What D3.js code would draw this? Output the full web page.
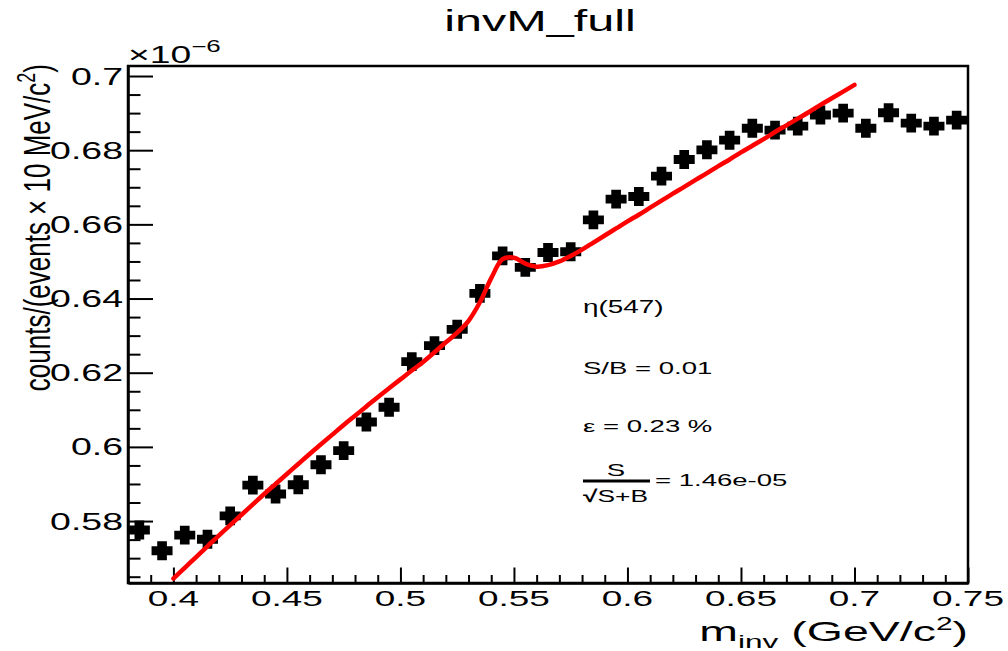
<!DOCTYPE html>
<html>
<head>
<meta charset="utf-8">
<script src="https://cdn.jsdelivr.net/npm/d3@7"></script>
<style>
  body { margin: 0; background: #fff; }
  text { font-family: "Liberation Sans", Arial, Helvetica, sans-serif; fill: #000; }
</style>
</head>
<body>
<div class="canvas"></div>
<script>
// histogram bins (GeV/c^2) and contents (x 10^-6)
const binCenters = [0.385, 0.395, 0.405, 0.415, 0.425, 0.435, 0.445, 0.455, 0.465, 0.475,
	0.485, 0.495, 0.505, 0.515, 0.525, 0.535, 0.545, 0.555, 0.565, 0.575,
	0.585, 0.595, 0.605, 0.615, 0.625, 0.635, 0.645, 0.655, 0.665, 0.675,
	0.685, 0.695, 0.705, 0.715, 0.725, 0.735, 0.745];
const counts = [0.5776, 0.5720, 0.5762, 0.5751, 0.5814, 0.5897, 0.5873, 0.5898, 0.5952, 0.5990,
	0.6067, 0.6107, 0.6230, 0.6273, 0.6317, 0.6414, 0.6515, 0.6484, 0.6524, 0.6526,
	0.6612, 0.6668, 0.6675, 0.6730, 0.6775, 0.6801, 0.6827, 0.6859, 0.6854, 0.6865,
	0.6895, 0.6900, 0.6859, 0.6901, 0.6873, 0.6865, 0.6881];

// fit curve
const fitX = [0.400, 0.405, 0.410, 0.415, 0.420, 0.425, 0.430, 0.435, 0.440, 0.445,
	0.450, 0.455, 0.460, 0.465, 0.470, 0.475, 0.480, 0.485, 0.490, 0.495,
	0.500, 0.505, 0.510, 0.515, 0.520, 0.525, 0.530, 0.535, 0.540, 0.545,
	0.550, 0.555, 0.560, 0.565, 0.570, 0.575, 0.580, 0.585, 0.590, 0.595,
	0.600, 0.605, 0.610, 0.615, 0.620, 0.625, 0.630, 0.635, 0.640, 0.645,
	0.650, 0.655, 0.660, 0.665, 0.670, 0.675, 0.680, 0.685, 0.690, 0.695, 0.700];
const fitY = [0.5645, 0.5674, 0.5703, 0.5732, 0.5761, 0.5789, 0.5817, 0.5845, 0.5873, 0.5900,
	0.5927, 0.5954, 0.5981, 0.6007, 0.6033, 0.6059, 0.6084, 0.6109, 0.6134, 0.6158,
	0.6182, 0.6206, 0.6229, 0.6255, 0.6282, 0.6308, 0.6340, 0.6390, 0.6455, 0.6506,
	0.6510, 0.6494, 0.6486, 0.6490, 0.6500, 0.6515, 0.6532, 0.6551, 0.6570, 0.6589,
	0.6608, 0.6626, 0.6645, 0.6664, 0.6683, 0.6701, 0.6720, 0.6738, 0.6757, 0.6775,
	0.6794, 0.6812, 0.6830, 0.6849, 0.6867, 0.6885, 0.6903, 0.6922, 0.6940, 0.6958, 0.6976];

const xTicks = [0.4, 0.45, 0.5, 0.55, 0.6, 0.65, 0.7, 0.75];
const xTickLabels = ['0.4', '0.45', '0.5', '0.55', '0.6', '0.65', '0.7', '0.75'];
const yTicks = [0.58, 0.6, 0.62, 0.64, 0.66, 0.68, 0.7];
const yTickLabels = ['0.58', '0.6', '0.62', '0.64', '0.66', '0.68', '0.7'];
const xMinor = d3.range(38, 76).map(d => d / 100);
const yMinor = d3.range(113, 141).map(d => d / 200);

const width = 1008, height = 651;
const frame = {left: 128, right: 968, top: 66, bottom: 583};

const svg = d3.select('.canvas')
	.append('svg')
	.attr('width', width)
	.attr('height', height);

svg.append('rect').attr('width', width).attr('height', height).attr('fill', '#fff');

const x = d3.scaleLinear().domain([0.38, 0.75]).range([frame.left, frame.right]);
const y = d3.scaleLinear().domain([0.5633, 0.7027]).range([frame.bottom, frame.top]);

// stretched text helper (the picture is wider than tall)
function label(px, py, txt, size, sx, anchor, rot) {
	const g = svg.append('g')
		.attr('transform', `translate(${px},${py}) scale(${sx},1)` + (rot ? ` rotate(${rot})` : ''));
	return g.append('text')
		.attr('font-size', size)
		.attr('text-anchor', anchor)
		.text(txt);
}

// frame
svg.append('rect')
	.attr('x', frame.left).attr('y', frame.top)
	.attr('width', frame.right - frame.left).attr('height', frame.bottom - frame.top)
	.attr('fill', 'none').attr('stroke', '#000').attr('stroke-width', 2.5);

// x axis ticks
const xAxis = d3.axisBottom(x).tickValues(xMinor).tickSize(0).tickFormat('');
const xAxisGroup = svg.append('g').attr('transform', `translate(0,${frame.bottom})`).call(xAxis);
xAxisGroup.select('.domain').attr('stroke-width', 2.5);
xAxisGroup.selectAll('.tick line')
	.attr('y2', d => xTicks.some(t => Math.abs(t - d) < 1e-9) ? -15.5 : -8)
	.attr('stroke-width', 2);

xTicks.forEach((t, i) => label(x(t), 606, xTickLabels[i], 22, 1.68, 'middle'));

// y axis ticks
const yAxis = d3.axisLeft(y).tickValues(yMinor).tickSize(0).tickFormat('');
const yAxisGroup = svg.append('g').attr('transform', `translate(${frame.left},0)`).call(yAxis);
yAxisGroup.select('.domain').attr('stroke-width', 2.5);
yAxisGroup.selectAll('.tick line')
	.attr('x2', d => yTicks.some(t => Math.abs(t - d) < 1e-9) ? 25 : 12.5)
	.attr('stroke-width', 2);

yTicks.forEach((t, i) => label(123, y(t) + 8.5, yTickLabels[i], 23, 1.63, 'end'));

// exponent
const expo = label(128, 63, '\u00d710', 23, 1.62, 'start');
expo.append('tspan').attr('font-size', 16).attr('dy', -11).text('\u22126');

// axis titles
const xt = label(968, 641, 'm', 28, 1.66, 'end');
xt.append('tspan').attr('font-size', 19).attr('dy', 7).text('inv');
xt.append('tspan').attr('dy', -7).text(' (GeV/c');
xt.append('tspan').attr('font-size', 18).attr('dy', -11).text('2');
xt.append('tspan').attr('dy', 11).text(')');

const yt = label(50, 64, 'counts/(events \u00d7 10 MeV/c', 26, 1.4, 'end', -90);
yt.append('tspan').attr('font-size', 18).attr('dy', -11).text('2');
yt.append('tspan').attr('dy', 11).text(')');

// title
label(540, 31, 'invM_full', 30, 1.62, 'middle');

// data markers (full cross)
const fullCross = {
	draw(ctx, size) {
		const w = Math.sqrt(size) / 2, h = w * 0.9, a = w * 0.46, b = h * 0.47;
		ctx.moveTo(-a, -h); ctx.lineTo(a, -h); ctx.lineTo(a, -b); ctx.lineTo(w, -b);
		ctx.lineTo(w, b); ctx.lineTo(a, b); ctx.lineTo(a, h); ctx.lineTo(-a, h);
		ctx.lineTo(-a, b); ctx.lineTo(-w, b); ctx.lineTo(-w, -b); ctx.lineTo(-a, -b);
		ctx.closePath();
	}
};

svg.append('g').selectAll('path')
	.data(binCenters.map((c, i) => ({x: c, y: counts[i]})))
	.enter()
	.append('path')
	.attr('d', d3.symbol().type(fullCross).size(441))
	.attr('transform', d => `translate(${x(d.x)},${y(d.y)})`)
	.attr('fill', '#000');

// fit
const line = d3.line().x(d => x(d[0])).y(d => y(d[1])).curve(d3.curveCatmullRom);
svg.append('path')
	.datum(fitX.map((v, i) => [v, fitY[i]]))
	.attr('d', line)
	.attr('fill', 'none')
	.attr('stroke', '#ff0000')
	.attr('stroke-width', 4.5)
	.attr('stroke-linecap', 'round');

// annotations
label(583, 313, '\u03b7(547)', 18, 1.55, 'start');
label(583, 374, 'S/B = 0.01', 17, 1.62, 'start');
label(583, 432, '\u03b5 = 0.23 %', 17, 1.62, 'start');
label(616, 476, 'S', 17, 1.62, 'middle');
svg.append('line')
	.attr('x1', 583).attr('x2', 650).attr('y1', 481).attr('y2', 481)
	.attr('stroke', '#000').attr('stroke-width', 3);
const den = label(583, 502, '', 17, 1.55, 'start');
den.append('tspan').attr('font-weight', 'bold').text('\u221a');
den.append('tspan').text('S+B');
label(655, 486, '= 1.46e-05', 17, 1.62, 'start');
</script>
</body>
</html>
